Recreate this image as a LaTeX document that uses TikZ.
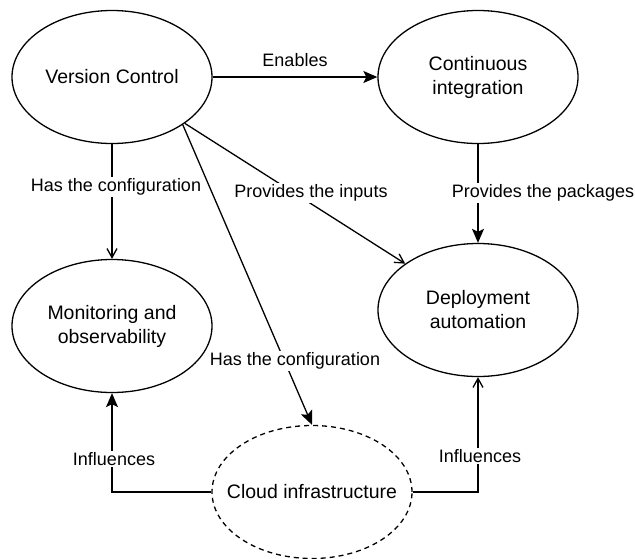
\documentclass[tikz,border=0pt]{standalone}
\usepackage{fontspec}
\setmainfont{Liberation Sans}
\usetikzlibrary{shapes.geometric,arrows.meta}
\tikzset{
  ell/.style={draw, line width=1.3pt, ellipse, minimum width=200pt, minimum height=133pt, inner sep=0pt, align=center, font=\fontsize{19.5}{24}\selectfont},
  dashell/.style={ell, dash pattern=on 5pt off 4pt},
  conn/.style={line width=1.3pt},
  solidtip/.style={conn, -{Stealth[length=14pt,width=12pt,inset=3pt]}},
  opentip/.style={conn, -{Straight Barb[length=9pt,width=10pt,line width=1.3pt]}},
  lbl/.style={fill=white, inner sep=1.5pt, font=\fontsize{18}{22}\selectfont}
}
\begin{document}
\begin{tikzpicture}[x=1pt,y=-1pt]
\useasboundingbox (0,0) rectangle (635,558);
\node[ell] (vc) at (112,77) {Version Control};
\node[ell] (ci) at (478,77) {Continuous\\integration};
\node[ell] (mon) at (112,326) {Monitoring and\\observability};
\node[ell] (dep) at (478,310) {Deployment\\automation};
\node[dashell] (cloud) at (312,492) {\makebox[0pt][c]{Cloud infrastructure}};

\draw[solidtip] (vc) -- (ci);
\draw[opentip] (vc) -- (mon);
\draw[opentip] (vc) -- (dep);
\draw[solidtip] (vc.-34) -- (cloud.north);
\draw[solidtip] (ci) -- (dep);
\draw[solidtip] (cloud.west) -| (mon.south);
\draw[opentip] (cloud.east) -| (dep.south);

\node[font=\fontsize{18}{22}\selectfont] (l1) at (295,60) {Enables};
\node[lbl] (l2) at (116,187) {Has the configuration};
\node[lbl] (l3) at (311,193) {Provides the inputs};
\node[lbl] (l4) at (295,361) {Has the configuration};
\node[lbl] (l5) at (543,193) {Provides the packages};
\node[lbl] (l6) at (114,459) {Influences};
\node[lbl] (l7) at (480,456) {Influences};
\end{tikzpicture}
\end{document}
